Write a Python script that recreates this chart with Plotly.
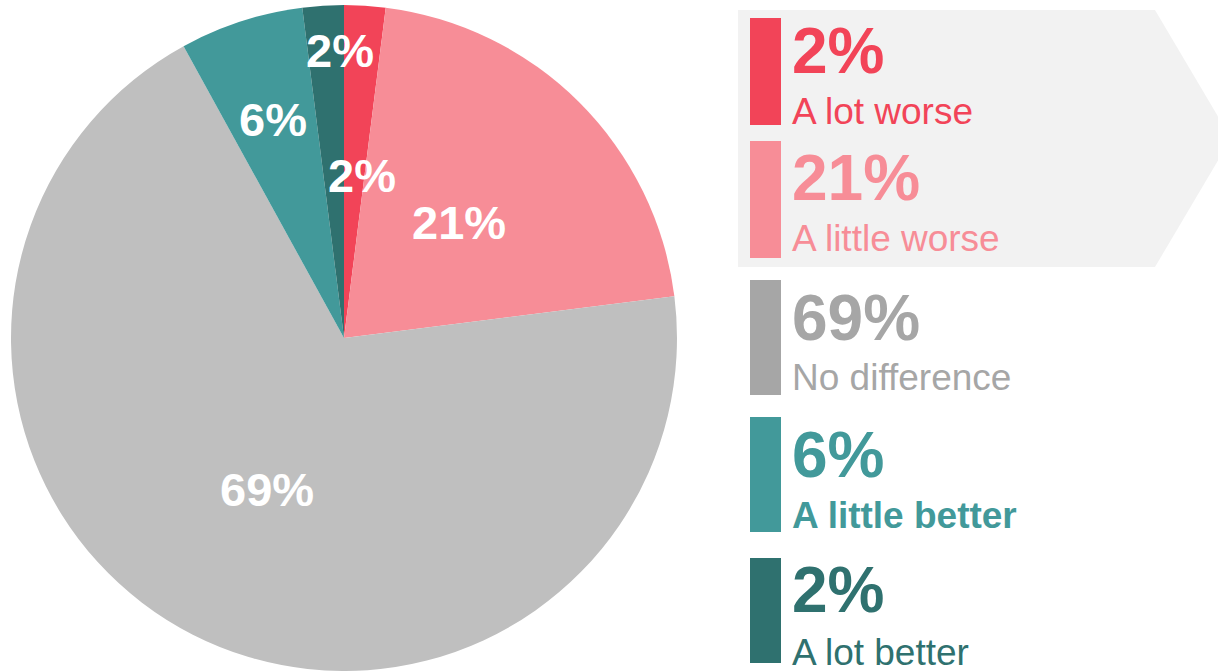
import math
import plotly.graph_objects as go

# Survey responses
categories = ["A lot worse", "A little worse", "No difference", "A little better", "A lot better"]
values = [2, 21, 69, 6, 2]

# Slice colours and the matching legend colours
slice_colors = ["#F24458", "#F78D97", "#BFBFBF", "#42999A", "#2F716F"]
legend_colors = ["#F24458", "#F78D97", "#A6A6A6", "#42999A", "#2F716F"]
legend_bold_label = [False, False, False, True, False]

W, H = 1218, 671
CX, CY, R = 344, 338, 333


def px(x):
    return x / W


def py(y):
    return 1 - y / H


fig = go.Figure()
fig.add_trace(go.Pie(
    labels=categories,
    values=values,
    sort=False,
    direction="clockwise",
    rotation=0,
    marker=dict(colors=slice_colors, line=dict(width=0)),
    textinfo="none",
    hoverinfo="label+percent",
    showlegend=False,
    domain=dict(x=[px(CX - R), px(CX + R)], y=[py(CY + R), py(CY - R)]),
))

annotations = []
shapes = []

# Percentage labels inside the pie, placed along each slice's mid angle
label_radius = [0.49, 0.49, 0.51, 0.69, 0.865]
label_xshift = [8, 0, 0, 0, 14]
total = sum(values)
cum = 0
for v, rf, xs in zip(values, label_radius, label_xshift):
    mid = (cum + v / 2) / total * 2 * math.pi
    cum += v
    lx = CX + math.sin(mid) * R * rf + xs
    ly = CY - math.cos(mid) * R * rf
    annotations.append(dict(
        x=px(lx), y=py(ly), xref="paper", yref="paper",
        text=f"<b>{v}%</b>", showarrow=False,
        xanchor="center", yanchor="middle",
        font=dict(family="Arial, Liberation Sans", size=47, color="white"),
    ))

# Highlight panel behind the two "worse" entries
shapes.append(dict(
    type="path", xref="paper", yref="paper",
    path=(f"M {px(738)},{py(10)} L {px(1155)},{py(10)} L {px(1231)},{py(138.5)} "
          f"L {px(1155)},{py(267)} L {px(738)},{py(267)} Z"),
    fillcolor="#F2F2F2", line=dict(width=0), layer="below",
))

# Legend entries: coloured bar, big percentage, category name
bar_tops = [18, 141, 280, 417, 558]
bar_bottoms = [125, 258, 395, 532, 663]
num_mid = [51, 178, 318, 455, 590]
name_mid = [111, 238, 377, 515, 652]
for i, (cat, v) in enumerate(zip(categories, values)):
    c = legend_colors[i]
    shapes.append(dict(
        type="rect", xref="paper", yref="paper",
        x0=px(750), x1=px(781), y0=py(bar_bottoms[i]), y1=py(bar_tops[i]),
        fillcolor=c, line=dict(width=0),
    ))
    annotations.append(dict(
        x=px(790), y=py(num_mid[i]), xref="paper", yref="paper",
        text=f"<b>{v}%</b>", showarrow=False,
        xanchor="left", yanchor="middle",
        font=dict(family="Arial, Liberation Sans", size=64, color=c),
    ))
    name = f"<b>{cat}</b>" if legend_bold_label[i] else cat
    annotations.append(dict(
        x=px(790), y=py(name_mid[i]), xref="paper", yref="paper",
        text=name, showarrow=False,
        xanchor="left", yanchor="middle",
        font=dict(family="Arial, Liberation Sans", size=37, color=c),
    ))

fig.update_layout(
    width=W, height=H,
    margin=dict(l=0, r=0, t=0, b=0),
    paper_bgcolor="white",
    plot_bgcolor="white",
    shapes=shapes,
    annotations=annotations,
)

fig.write_html("out.html")
